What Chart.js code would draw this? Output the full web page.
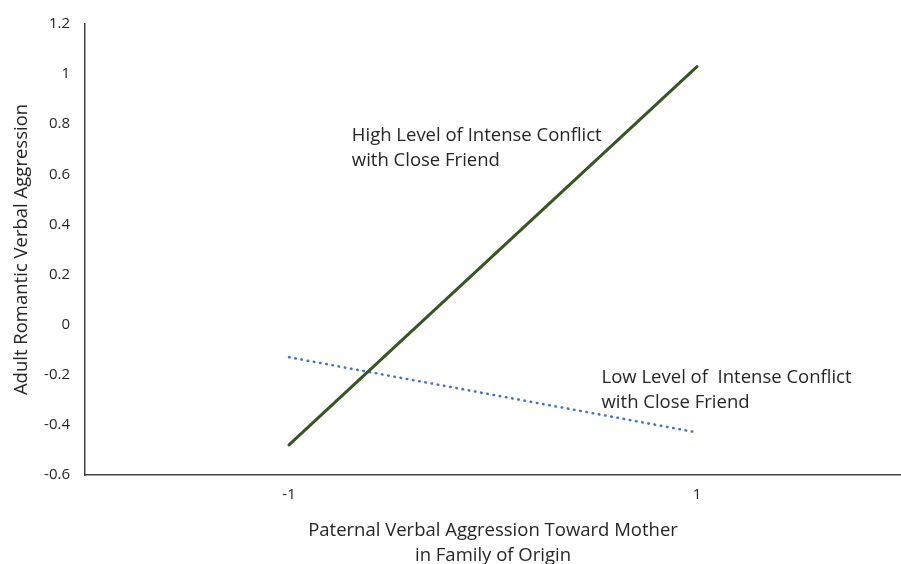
<!DOCTYPE html>
<html>
<head>
<meta charset="utf-8">
<script src="https://cdn.jsdelivr.net/npm/chart.js@4.4.1/dist/chart.umd.min.js"></script>
<style>
  html, body { margin: 0; padding: 0; background: #fff; }
  #wrap { width: 901px; height: 564px; }
</style>
</head>
<body>
<div id="wrap"><canvas id="chart"></canvas></div>
<script>
// values
const categories = ['-1', '1'];
const highConflict = [-0.48, 1.03];
const lowConflict = [-0.13, -0.43];
const yMin = -0.6;
const yMax = 1.2;
const yStep = 0.2;

const FONT = '"Open Sans", Lato, sans-serif';
const TEXT = '#262626';

// annotation labels: x as fraction between the two category points, y in data units
const notes = [
  { lines: ['High Level of Intense Conflict', 'with Close Friend'], fx: 0.154, y: 0.755 },
  { lines: ['Low Level of  Intense Conflict', 'with Close Friend'], fx: 0.766, y: -0.213 }
];

const notePlugin = {
  id: 'notes',
  afterDatasetsDraw(chart) {
    const ctx = chart.ctx;
    const xs = chart.scales.x, ys = chart.scales.y;
    const x0 = xs.getPixelForValue(0), x1 = xs.getPixelForValue(1);
    ctx.save();
    ctx.font = '18.5px ' + FONT;
    ctx.fillStyle = TEXT;
    ctx.textAlign = 'left';
    ctx.textBaseline = 'middle';
    notes.forEach(n => {
      const px = x0 + (x1 - x0) * n.fx;
      const py = ys.getPixelForValue(n.y);
      n.lines.forEach((t, i) => ctx.fillText(t, px, py + i * 25));
    });
    ctx.restore();
  }
};

new Chart(document.getElementById('chart'), {
  type: 'line',
  data: {
    labels: categories,
    datasets: [
      {
        label: 'High',
        data: highConflict,
        borderColor: '#375623',
        borderWidth: 3,
        borderCapStyle: 'round',
        pointRadius: 0,
        tension: 0
      },
      {
        label: 'Low',
        data: lowConflict,
        borderColor: '#4472C4',
        borderWidth: 2.5,
        borderDash: [0.6, 5.7],
        borderCapStyle: 'round',
        pointRadius: 0,
        tension: 0
      }
    ]
  },
  options: {
    responsive: true,
    maintainAspectRatio: false,
    animation: false,
    layout: { padding: { top: 20, right: 0, left: 0, bottom: 0 } },
    plugins: {
      legend: { display: false },
      tooltip: { enabled: false }
    },
    scales: {
      x: {
        type: 'category',
        offset: true,
        grid: { display: false, drawTicks: false },
        border: { display: true, color: '#404040', width: 1.5 },
        ticks: { color: TEXT, font: { family: FONT, size: 15 }, padding: 11 },
        title: {
          display: true,
          text: ['Paternal Verbal Aggression Toward Mother', 'in Family of Origin'],
          color: TEXT,
          font: { family: FONT, size: 18.5, lineHeight: 1.35 },
          padding: { top: 0, bottom: -4 }
        },
        afterFit(scale) { scale.height = 89; }
      },
      y: {
        min: yMin,
        max: yMax,
        grid: { display: false, drawTicks: false },
        border: { display: true, color: '#404040', width: 1.5 },
        ticks: {
          stepSize: yStep,
          color: TEXT,
          font: { family: FONT, size: 15 },
          padding: 15,
          callback: v => String(parseFloat(v.toFixed(1)))
        },
        title: {
          display: true,
          text: 'Adult Romantic Verbal Aggression',
          color: TEXT,
          font: { family: FONT, size: 18.5 },
          padding: { top: 11, bottom: 0 }
        },
        afterFit(scale) { scale.width = 85; }
      }
    }
  },
  plugins: [notePlugin]
});
</script>
</body>
</html>
